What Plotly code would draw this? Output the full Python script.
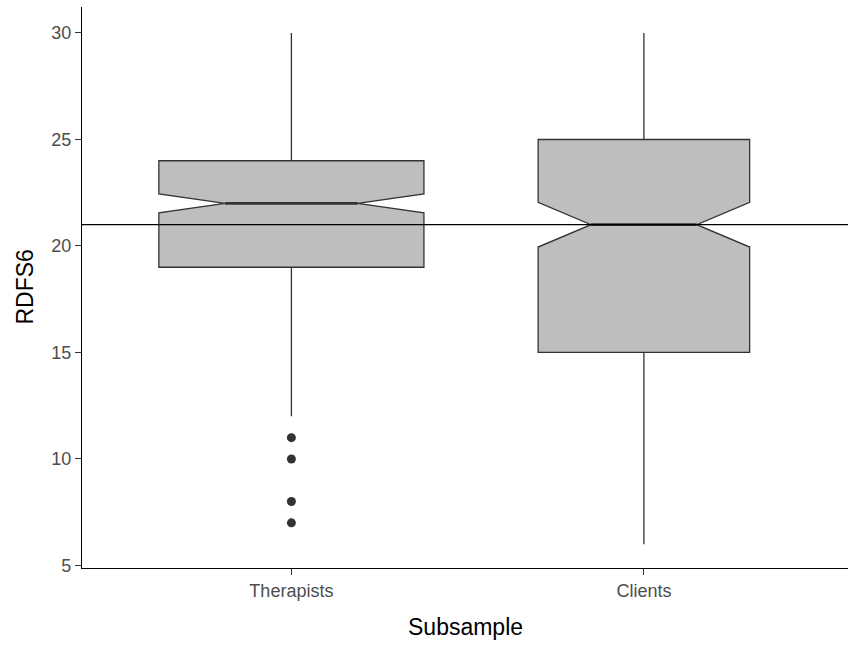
import plotly.graph_objects as go

# ---- data ----
categories = ["Therapists", "Clients"]
q1_vals = [19, 15]
median_vals = [22, 21]
q3_vals = [24, 25]
lower_whisker = [12, 6]
upper_whisker = [30, 30]
notch_span = [0.44, 1.05]
outliers_therapists = [11, 10, 8, 7]
reference_line = 21
y_ticks = [5, 10, 15, 20, 25, 30]
x_title = "Subsample"
y_title = "RDFS6"

# ---- styling ----
box_widths = [0.752, 0.60]
notch_w = 0.25          # plotly: median width = box width * (1 - 2*notchwidth)
fill = "#BEBEBE"
edge = "#333333"
font_family = "Liberation Sans, Arial, sans-serif"

fig = go.Figure()
positions = list(range(len(categories)))
for i, cat in enumerate(categories):
    fig.add_trace(go.Box(
        x=[positions[i]], q1=[q1_vals[i]], median=[median_vals[i]], q3=[q3_vals[i]],
        lowerfence=[lower_whisker[i]], upperfence=[upper_whisker[i]],
        notchspan=[notch_span[i]], notched=True, notchwidth=notch_w,
        whiskerwidth=0,
        width=box_widths[i], fillcolor=fill,
        line=dict(color=edge, width=1.3), boxpoints=False,
        name=cat, showlegend=False, hoverinfo="skip",
    ))
    # thicker median segment (ggplot fatten)
    half = box_widths[i] / 2 * (1 - 2 * notch_w)
    fig.add_trace(go.Scatter(
        x=[positions[i] - half, positions[i] + half],
        y=[median_vals[i], median_vals[i]],
        mode="lines", line=dict(color=edge, width=2.6),
        showlegend=False, hoverinfo="skip",
    ))

fig.add_trace(go.Scatter(
    x=[positions[0]] * len(outliers_therapists), y=outliers_therapists,
    mode="markers", marker=dict(color=edge, size=9),
    showlegend=False, hoverinfo="skip",
))

fig.add_shape(type="line", xref="paper", x0=0, x1=1, yref="y",
              y0=reference_line, y1=reference_line,
              line=dict(color="black", width=1.3), layer="above")

fig.add_annotation(text=x_title, xref="paper", x=0.5, yref="paper", y=0,
                   yshift=-59, showarrow=False, xanchor="center", yanchor="middle",
                   font=dict(size=23, color="black", family=font_family))
fig.add_annotation(text=y_title, xref="paper", x=0, xshift=-58, yref="paper", y=0.5,
                   showarrow=False, textangle=-90, xanchor="center", yanchor="middle",
                   font=dict(size=23, color="black", family=font_family))

fig.update_layout(
    width=848, height=646,
    margin=dict(l=82, r=0, t=7, b=78, autoexpand=False),
    paper_bgcolor="white", plot_bgcolor="white",
    font=dict(family=font_family),
    boxmode="overlay",
    xaxis=dict(
        range=[-0.594, 1.579], tickvals=positions, ticktext=categories,
        showgrid=False, zeroline=False, automargin=False,
        showline=True, linecolor="black", linewidth=1.3,
        ticks="outside", ticklen=6, tickcolor=edge, tickwidth=1.2,
        tickfont=dict(size=18, color="#4D4D4D", family=font_family),
    ),
    yaxis=dict(
        range=[4.88, 31.22], tickvals=y_ticks,
        showgrid=False, zeroline=False, automargin=False,
        showline=True, linecolor="black", linewidth=1.3,
        ticks="outside", ticklen=6, tickcolor=edge, tickwidth=1.2,
        tickfont=dict(size=18, color="#4D4D4D", family=font_family),
    ),
)

fig.write_html("out.html", config={"displayModeBar": False},
               post_script="document.body.style.margin='0';")
